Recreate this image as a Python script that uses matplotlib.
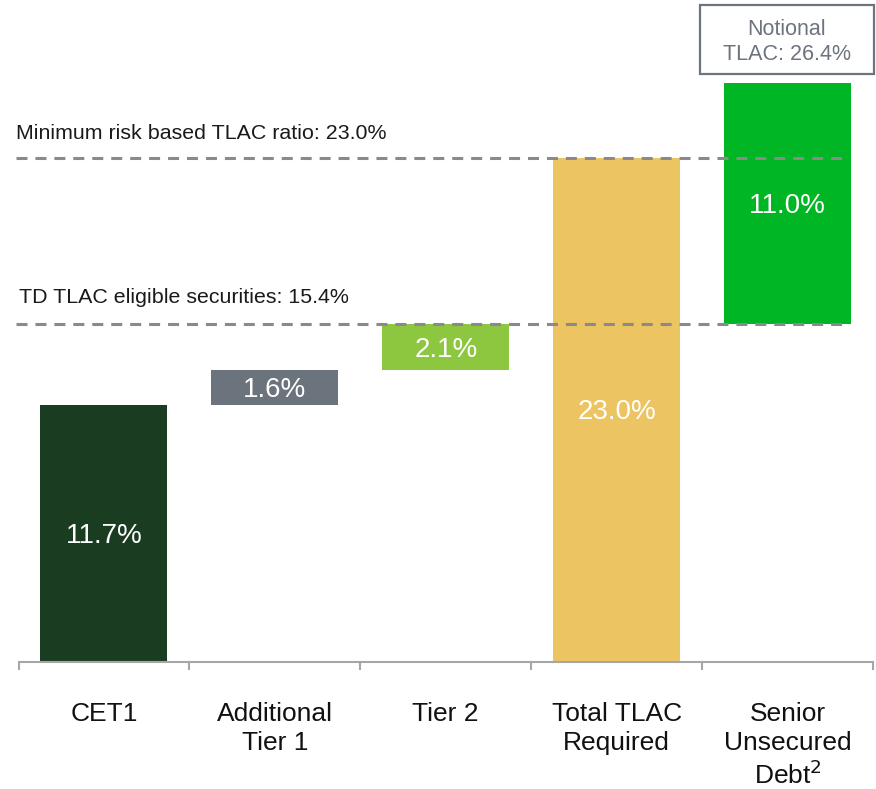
import matplotlib
matplotlib.use("Agg")
import matplotlib.pyplot as plt
from matplotlib.patches import Rectangle

plt.rcParams['font.family'] = ['Liberation Sans', 'DejaVu Sans']

# Waterfall components of the TLAC ratio (% of risk-weighted assets)
categories = ["CET1", "Additional\nTier 1", "Tier 2", "Total TLAC\nRequired", "Senior\nUnsecured\nDebt$^2$"]
values = [11.7, 1.6, 2.1, 23.0, 11.0]
bases = [0.0, 11.7, 13.3, 0.0, 15.4]
colors = ["#1a3d22", "#6b737c", "#8dc63f", "#ecc462", "#00b624"]

min_tlac_ratio = 23.0
eligible_securities = 15.4
notional_tlac = 26.4

W, H = 876, 789
ax_left, ax_right, ax_bottom = 18.5, 873.0, 662.0
px_per_unit = 21.93
cat_px = (ax_right - ax_left) / len(categories)

fig = plt.figure(figsize=(W / 100, H / 100), dpi=100)
ax = fig.add_axes([ax_left / W, (H - ax_bottom) / H, (ax_right - ax_left) / W, ax_bottom / H])

x = list(range(len(categories)))
ax.bar(x, values, bottom=bases, width=0.743, color=colors, zorder=2)
for xi, v, b in zip(x, values, bases):
    ax.text(xi, b + v / 2 - 0.11, f"{v:.1f}%", ha="center", va="center",
            color="white", fontsize=20, zorder=4)

ax.set_xlim(-0.5, len(categories) - 0.5)
ax.set_ylim(0, ax_bottom / px_per_unit)

# Reference levels, dashed across the plot
x_start = -0.5 - 2.5 / cat_px
x_end = -0.5 + (849 - ax_left) / cat_px
for level in (min_tlac_ratio, eligible_securities):
    ax.plot([x_start, x_end], [level, level], color="#8a8a8a", lw=2.2,
            dashes=(3.6, 2.6), zorder=3, clip_on=False, solid_capstyle="butt")

ax.text(x_start, min_tlac_ratio + 0.85, f"Minimum risk based TLAC ratio: {min_tlac_ratio:.1f}%",
        fontsize=15.4, color="#1a1a1a", va="baseline", ha="left")
ax.text(x_start + 3 / cat_px, eligible_securities + 0.95, f"TD TLAC eligible securities: {eligible_securities:.1f}%",
        fontsize=15.4, color="#1a1a1a", va="baseline", ha="left")

# Axis styling
for side in ("top", "left", "right"):
    ax.spines[side].set_visible(False)
ax.spines["bottom"].set_color("#a6a6a6")
ax.spines["bottom"].set_linewidth(1.5)
ax.set_yticks([])
ax.set_xticks(x)
ax.set_xticklabels(categories, fontsize=19, color="#111111", linespacing=1.25)
ax.tick_params(axis="x", which="major", length=0, pad=29)
ax.set_xticks([i - 0.5 for i in range(len(categories) + 1)], minor=True)
ax.tick_params(axis="x", which="minor", length=6, width=1.5, color="#a6a6a6", direction="out")

# Notional TLAC call-out box
bx0, by0, bx1, by1 = 700, 5, 874, 74
fig.patches.append(Rectangle((bx0 / W, 1 - by1 / H), (bx1 - bx0) / W, (by1 - by0) / H,
                             transform=fig.transFigure, fill=False,
                             edgecolor="#6d747e", linewidth=1.6))
fig.text((bx0 + bx1) / 2 / W, 1 - 42 / H, f"Notional\nTLAC: {notional_tlac:.1f}%",
         ha="center", va="center", fontsize=15.5, color="#6d747e", linespacing=1.2)

fig.savefig("out.png", dpi=100)
